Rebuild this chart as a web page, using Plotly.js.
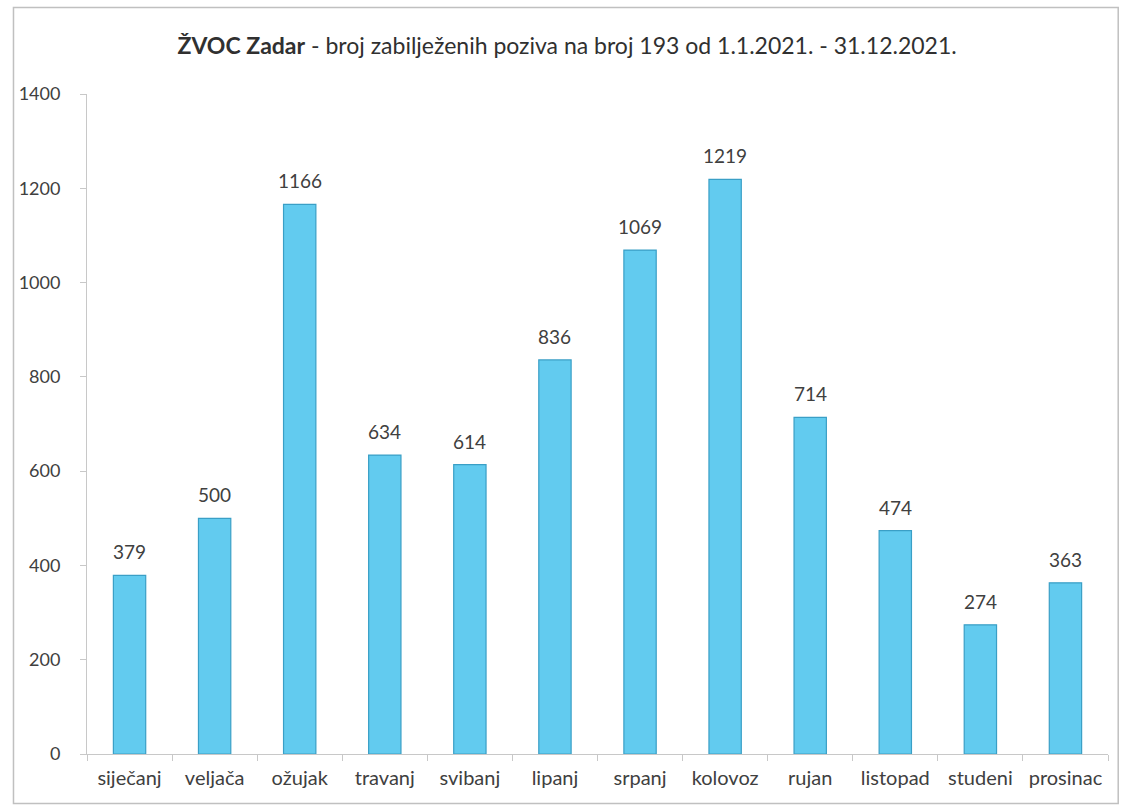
<!DOCTYPE html>
<html>
<head>
<meta charset="utf-8">
<script src="https://cdn.plot.ly/plotly-3.0.1.min.js"></script>
<style>html,body{margin:0;padding:0;background:#fff;}#chart{width:1123px;height:810px;}</style>
</head>
<body>
<div id="chart"></div>
<script>
const months = ["siječanj","veljača","ožujak","travanj","svibanj","lipanj","srpanj","kolovoz","rujan","listopad","studeni","prosinac"];
const calls = [379,500,1166,634,614,836,1069,1219,714,474,274,363];
const yTicks = [0,200,400,600,800,1000,1200,1400];

const FONT = "Lato, 'Open Sans', sans-serif";
const trace = {
  type: "bar",
  x: months,
  y: calls,
  marker: {color: "#62cbef", line: {color: "#3a9fc6", width: 1.2}},
  hoverinfo: "x+y"
};
const labels = months.map((m, i) => ({
  x: m, y: calls[i], xref: "x", yref: "y",
  text: String(calls[i]), showarrow: false,
  yanchor: "bottom", yshift: 10,
  font: {family: FONT, size: 19, color: "#404040"}
}));
const layout = {
  width: 1123, height: 810,
  margin: {l: 87, r: 15, t: 94, b: 56},
  paper_bgcolor: "#fff", plot_bgcolor: "#fff",
  bargap: 0.62,
  title: {
    text: "<b>ŽVOC Zadar</b> - broj zabilježenih poziva na broj 193 od 1.1.2021. - 31.12.2021.",
    font: {family: FONT, size: 23, color: "#303030"},
    x: 0.505, xanchor: "center", y: 0.943, yanchor: "middle"
  },
  xaxis: {
    type: "category",
    tickson: "boundaries",
    ticks: "outside", ticklen: 6, tickcolor: "#c8c8c8",
    showline: true, linecolor: "#c8c8c8", linewidth: 1,
    showgrid: false,
    ticklabelstandoff: 6,
    tickfont: {family: FONT, size: 20, color: "#404040"}
  },
  yaxis: {
    range: [0, 1400],
    tickvals: yTicks,
    ticktext: yTicks.map(String),
    ticks: "outside", ticklen: 6, tickcolor: "#c8c8c8",
    showline: true, linecolor: "#c8c8c8", linewidth: 1,
    showgrid: false, zeroline: false,
    ticklabelstandoff: 16,
    tickfont: {family: FONT, size: 18, color: "#404040"}
  },
  annotations: labels,
  shapes: [{
    type: "rect", xref: "paper", yref: "paper",
    x0: -0.072, x1: 1.01, y0: -0.075, y1: 1.131,
    line: {color: "#c0c0c0", width: 1.5}, fillcolor: "rgba(0,0,0,0)"
  }],
  showlegend: false
};
Plotly.newPlot("chart", [trace], layout, {displayModeBar: false, staticPlot: true});
</script>
</body>
</html>
